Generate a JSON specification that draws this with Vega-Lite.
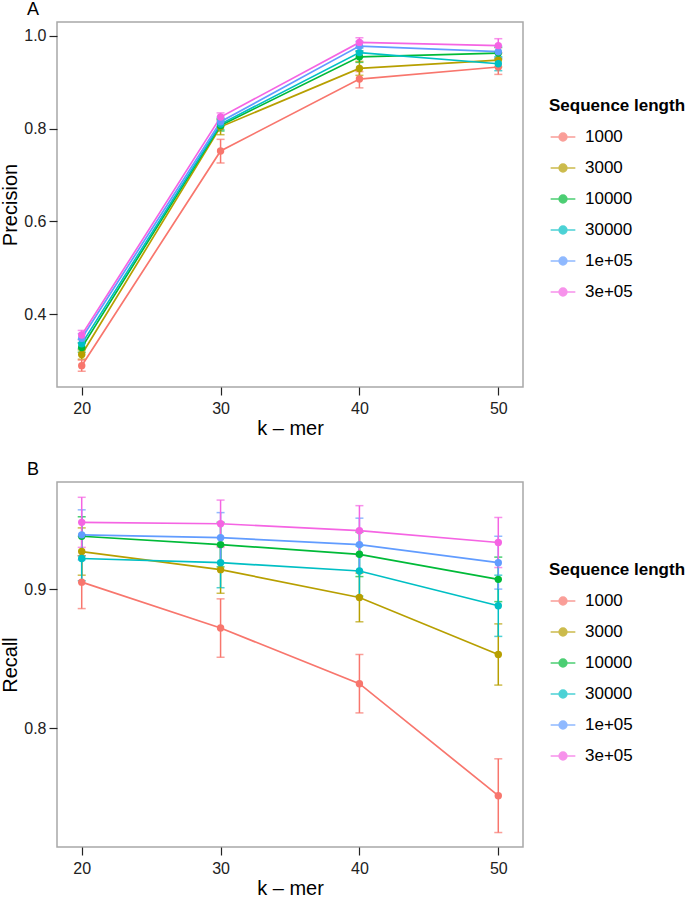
{
  "$schema": "https://vega.github.io/schema/vega-lite/v6.json",
  "background": "white",
  "padding": {"left": 0, "top": 0, "right": 0, "bottom": 0},
  "datasets": {
    "prec": [
      {"k": 20, "len": "1000", "v": 0.289, "lo": 0.277, "hi": 0.301},
      {"k": 20, "len": "3000", "v": 0.313, "lo": 0.303, "hi": 0.323},
      {"k": 20, "len": "10000", "v": 0.328, "lo": 0.318, "hi": 0.338},
      {"k": 20, "len": "30000", "v": 0.336, "lo": 0.326, "hi": 0.346},
      {"k": 20, "len": "1e+05", "v": 0.348, "lo": 0.338, "hi": 0.358},
      {"k": 20, "len": "3e+05", "v": 0.355, "lo": 0.345, "hi": 0.365},
      {"k": 30, "len": "1000", "v": 0.752, "lo": 0.726, "hi": 0.777},
      {"k": 30, "len": "3000", "v": 0.804, "lo": 0.787, "hi": 0.821},
      {"k": 30, "len": "10000", "v": 0.807, "lo": 0.795, "hi": 0.819},
      {"k": 30, "len": "30000", "v": 0.810, "lo": 0.798, "hi": 0.822},
      {"k": 30, "len": "1e+05", "v": 0.815, "lo": 0.805, "hi": 0.825},
      {"k": 30, "len": "3e+05", "v": 0.825, "lo": 0.816, "hi": 0.834},
      {"k": 40, "len": "1000", "v": 0.907, "lo": 0.888, "hi": 0.923},
      {"k": 40, "len": "3000", "v": 0.930, "lo": 0.915, "hi": 0.945},
      {"k": 40, "len": "10000", "v": 0.955, "lo": 0.943, "hi": 0.967},
      {"k": 40, "len": "30000", "v": 0.964, "lo": 0.954, "hi": 0.974},
      {"k": 40, "len": "1e+05", "v": 0.978, "lo": 0.968, "hi": 0.988},
      {"k": 40, "len": "3e+05", "v": 0.986, "lo": 0.976, "hi": 0.996},
      {"k": 50, "len": "1000", "v": 0.933, "lo": 0.917, "hi": 0.949},
      {"k": 50, "len": "3000", "v": 0.948, "lo": 0.933, "hi": 0.963},
      {"k": 50, "len": "10000", "v": 0.963, "lo": 0.951, "hi": 0.975},
      {"k": 50, "len": "30000", "v": 0.940, "lo": 0.925, "hi": 0.955},
      {"k": 50, "len": "1e+05", "v": 0.966, "lo": 0.954, "hi": 0.978},
      {"k": 50, "len": "3e+05", "v": 0.979, "lo": 0.964, "hi": 0.994}
    ],
    "rec": [
      {"k": 20, "len": "1000", "v": 0.905, "lo": 0.886, "hi": 0.924},
      {"k": 20, "len": "3000", "v": 0.927, "lo": 0.910, "hi": 0.944},
      {"k": 20, "len": "10000", "v": 0.938, "lo": 0.924, "hi": 0.952},
      {"k": 20, "len": "30000", "v": 0.922, "lo": 0.906, "hi": 0.938},
      {"k": 20, "len": "1e+05", "v": 0.939, "lo": 0.921, "hi": 0.957},
      {"k": 20, "len": "3e+05", "v": 0.948, "lo": 0.930, "hi": 0.966},
      {"k": 30, "len": "1000", "v": 0.872, "lo": 0.851, "hi": 0.893},
      {"k": 30, "len": "3000", "v": 0.914, "lo": 0.897, "hi": 0.931},
      {"k": 30, "len": "10000", "v": 0.932, "lo": 0.916, "hi": 0.948},
      {"k": 30, "len": "30000", "v": 0.919, "lo": 0.901, "hi": 0.937},
      {"k": 30, "len": "1e+05", "v": 0.937, "lo": 0.919, "hi": 0.955},
      {"k": 30, "len": "3e+05", "v": 0.947, "lo": 0.930, "hi": 0.964},
      {"k": 40, "len": "1000", "v": 0.832, "lo": 0.811, "hi": 0.853},
      {"k": 40, "len": "3000", "v": 0.894, "lo": 0.8765, "hi": 0.9115},
      {"k": 40, "len": "10000", "v": 0.925, "lo": 0.909, "hi": 0.941},
      {"k": 40, "len": "30000", "v": 0.913, "lo": 0.895, "hi": 0.931},
      {"k": 40, "len": "1e+05", "v": 0.932, "lo": 0.913, "hi": 0.951},
      {"k": 40, "len": "3e+05", "v": 0.942, "lo": 0.924, "hi": 0.960},
      {"k": 50, "len": "1000", "v": 0.7515, "lo": 0.725, "hi": 0.778},
      {"k": 50, "len": "3000", "v": 0.853, "lo": 0.831, "hi": 0.875},
      {"k": 50, "len": "10000", "v": 0.907, "lo": 0.891, "hi": 0.923},
      {"k": 50, "len": "30000", "v": 0.888, "lo": 0.866, "hi": 0.910},
      {"k": 50, "len": "1e+05", "v": 0.919, "lo": 0.900, "hi": 0.938},
      {"k": 50, "len": "3e+05", "v": 0.9335, "lo": 0.9155, "hi": 0.9515}
    ]
  },
  "spacing": 21,
  "resolve": {"scale": {"color": "shared"}, "legend": {"color": "independent"}},
  "vconcat": [
    {
      "title": {"text": "A"},
      "width": 466,
      "height": 365,
      "data": {"name": "prec"},
      "encoding": {
        "x": {"field": "k", "type": "quantitative", "scale": {"domain": [18.22, 51.78], "nice": false, "zero": false}, "axis": {"values": [20, 30, 40, 50], "title": "k – mer"}},
        "color": {"field": "len", "type": "nominal",
          "scale": {"domain": ["1000", "3000", "10000", "30000", "1e+05", "3e+05"], "range": ["#F8766D", "#B79F00", "#00BA38", "#00BFC4", "#619CFF", "#F564E3"]},
          "legend": {"title": "Sequence length", "orient": "none", "legendX": 492, "legendY": 76}}
      },
      "layer": [
        {"mark": {"type": "errorbar", "ticks": {"size": 8}, "thickness": 1.5},
         "encoding": {"y": {"field": "lo", "type": "quantitative", "scale": {"domain": [0.243, 1.03], "nice": false, "zero": false}, "axis": {"values": [0.4, 0.6, 0.8, 1.0], "format": ".1f", "title": "Precision"}}, "y2": {"field": "hi"}}},
        {"mark": {"type": "line", "strokeWidth": 1.7},
         "encoding": {"y": {"field": "v", "type": "quantitative", "scale": {"domain": [0.243, 1.03], "nice": false, "zero": false}, "axis": {"values": [0.4, 0.6, 0.8, 1.0], "format": ".1f", "title": "Precision"}}}},
        {"mark": {"type": "point", "filled": true, "size": 55, "opacity": 1},
         "encoding": {"y": {"field": "v", "type": "quantitative", "scale": {"domain": [0.243, 1.03], "nice": false, "zero": false}, "axis": {"values": [0.4, 0.6, 0.8, 1.0], "format": ".1f", "title": "Precision"}}}}
      ]
    },
    {
      "title": {"text": "B"},
      "width": 466,
      "height": 365,
      "data": {"name": "rec"},
      "encoding": {
        "x": {"field": "k", "type": "quantitative", "scale": {"domain": [18.22, 51.78], "nice": false, "zero": false}, "axis": {"values": [20, 30, 40, 50], "title": "k – mer"}},
        "color": {"field": "len", "type": "nominal",
          "scale": {"domain": ["1000", "3000", "10000", "30000", "1e+05", "3e+05"], "range": ["#F8766D", "#B79F00", "#00BA38", "#00BFC4", "#619CFF", "#F564E3"]},
          "legend": {"title": "Sequence length", "orient": "none", "legendX": 492, "legendY": 80}}
      },
      "layer": [
        {"mark": {"type": "errorbar", "ticks": {"size": 8}, "thickness": 1.5},
         "encoding": {"y": {"field": "lo", "type": "quantitative", "scale": {"domain": [0.7146, 0.977], "nice": false, "zero": false}, "axis": {"values": [0.8, 0.9], "format": ".1f", "title": "Recall"}}, "y2": {"field": "hi"}}},
        {"mark": {"type": "line", "strokeWidth": 1.7},
         "encoding": {"y": {"field": "v", "type": "quantitative", "scale": {"domain": [0.7146, 0.977], "nice": false, "zero": false}, "axis": {"values": [0.8, 0.9], "format": ".1f", "title": "Recall"}}}},
        {"mark": {"type": "point", "filled": true, "size": 55, "opacity": 1},
         "encoding": {"y": {"field": "v", "type": "quantitative", "scale": {"domain": [0.7146, 0.977], "nice": false, "zero": false}, "axis": {"values": [0.8, 0.9], "format": ".1f", "title": "Recall"}}}}
      ]
    }
  ],
  "config": {
    "font": "Liberation Sans",
    "view": {"stroke": "#a8a8a8", "strokeWidth": 1.5},
    "axis": {"grid": false, "domain": false, "tickColor": "#222", "tickSize": 8, "tickWidth": 1.2,
      "labelFont": "Liberation Sans", "labelFontSize": 16, "labelColor": "#222", "labelPadding": 4,
      "titleFont": "Liberation Sans", "titleFontSize": 20, "titleFontWeight": "normal", "titleColor": "#000"},
    "axisX": {"labelPadding": 5, "titlePadding": 2},
    "axisY": {"labelPadding": 3, "titlePadding": 3},
    "legend": {
      "titleFont": "Liberation Sans", "titleFontSize": 17, "titleFontWeight": "bold", "titleColor": "#000", "titlePadding": 8,
      "labelFont": "Liberation Sans", "labelFontSize": 17, "labelColor": "#000", "labelOffset": 8,
      "symbolType": "M-0.95,0H0.95M-0.3,0A0.3,0.3 0 1,0 0.3,0A0.3,0.3 0 1,0 -0.3,0Z",
      "symbolSize": 676, "symbolStrokeWidth": 1.5, "rowPadding": 9,
      "encode": {"symbols": {"update": {"fill": {"scale": "color", "field": "value"}, "stroke": {"scale": "color", "field": "value"}, "strokeWidth": {"value": 1.5}, "opacity": {"value": 1}}}}
    },
    "title": {"anchor": "start", "frame": "group", "dx": -30, "offset": 3, "baseline": "alphabetic", "fontSize": 18, "fontWeight": "normal", "font": "Liberation Sans", "color": "#000"}
  }
}
